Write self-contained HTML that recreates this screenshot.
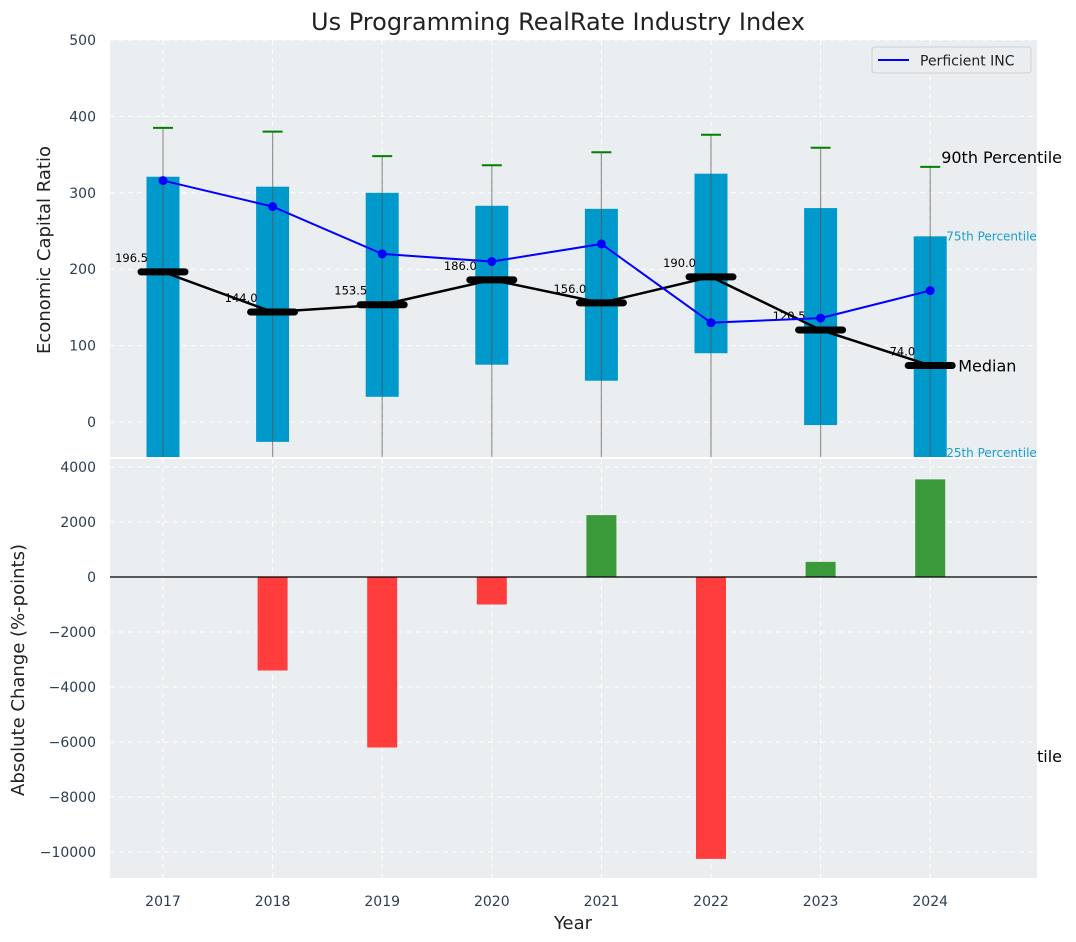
<!DOCTYPE html>
<html><head><meta charset="utf-8">
<style>
html,body{margin:0;padding:0;background:#fff;}
svg{display:block;font-family:"DejaVu Sans","Liberation Sans",sans-serif;}
</style></head>
<body>
<svg id="chart" width="1076" height="942" viewBox="0 0 1076 942" xmlns="http://www.w3.org/2000/svg">
<defs>
<clipPath id="clipTop"><rect x="110" y="40" width="927" height="417"/></clipPath>
<clipPath id="clipBot"><rect x="110" y="459" width="927" height="419"/></clipPath>
</defs>
<text x="558" y="30" text-anchor="middle" font-size="24" fill="#222">Us Programming RealRate Industry Index</text>
<rect x="110" y="40" width="927" height="417" fill="#eaeef0"/>
<g id="topGrid"></g>
<g id="topMarks" clip-path="url(#clipTop)"></g>
<g id="topAxis"></g>
<g id="annot"></g>
<rect x="110" y="459" width="927" height="419" fill="#eaeef0"/>
<g id="botGrid"></g>
<g id="botMarks" clip-path="url(#clipBot)"></g>
<g id="botAxis"></g>
<text x="1037" y="762" font-size="16" fill="#000">tile</text>
<text x="50" y="250" font-size="18" fill="#222" text-anchor="middle" transform="rotate(-90 50 250)">Economic Capital Ratio</text>
<text x="24" y="670" font-size="18" fill="#222" text-anchor="middle" transform="rotate(-90 24 670)">Absolute Change (%-points)</text>
<text x="573" y="929" font-size="18" fill="#222" text-anchor="middle">Year</text>
<g>
<rect x="872" y="47" width="159" height="26" rx="3" fill="#eaeef0" stroke="#d0d0d0"/>
<line x1="878" y1="60" x2="909" y2="60" stroke="#0000ff" stroke-width="2"/>
<text x="920" y="65.5" font-size="14" fill="#222">Perficient INC</text>
</g>
</svg>
<script>
const years = [2017,2018,2019,2020,2021,2022,2023,2024];
const p90 = [385,380,348,336,353,376,359,334];
const p75 = [321,308,300,283,279,325,280,243];
const medians = [196.5,144.0,153.5,186.0,156.0,190.0,120.5,74.0];
const p25 = [-80,-26,33,75,54,90,-4,-60];
const p10 = [-300,-300,-300,-300,-300,-300,-300,-437];
const company = [316,282,220,210,233,130,136,172];
const changes = [0,-3400,-6200,-1000,2250,-10250,550,3550];
const topTicks = [0,100,200,300,400,500];
const botTicks = [4000,2000,0,-2000,-4000,-6000,-8000,-10000];

const NS="http://www.w3.org/2000/svg";
function mk(parent,tag,attrs,txt){const e=document.createElementNS(NS,tag);for(const k in attrs)e.setAttribute(k,attrs[k]);if(txt!==undefined)e.textContent=txt;parent.appendChild(e);return e;}
const xS = i => 163 + i*109.6;
const yT = v => 422 - v*0.764;
const yB = v => 577 - v*0.0275;
const tg=document.getElementById('topGrid'), tm=document.getElementById('topMarks'), ta=document.getElementById('topAxis');
const bg=document.getElementById('botGrid'), bm=document.getElementById('botMarks'), ba=document.getElementById('botAxis');
const an=document.getElementById('annot');

topTicks.forEach(t=>{
  const g=mk(tg,'line',{x1:110,x2:1037,y1:yT(t),y2:yT(t),stroke:'#fff','stroke-dasharray':'5,4','stroke-width':1});
  
  
  const l=mk(ta,'text',{x:96,y:yT(t)+5,'text-anchor':'end','font-size':14,fill:'#2c3e50'},String(t));
  
  
});
botTicks.forEach(t=>{
  const g=mk(bg,'line',{x1:110,x2:1037,y1:yB(t),y2:yB(t),stroke:'#fff','stroke-dasharray':'5,4','stroke-width':1});
  
  
  const lbl = t<0 ? '\u2212'+Math.abs(t) : String(t);
  const l=mk(ba,'text',{x:96,y:yB(t)+5,'text-anchor':'end','font-size':14,fill:'#2c3e50'},lbl);
  
  
});
years.forEach((y,i)=>{
  const x=xS(i);
  const g1=mk(tg,'line',{x1:x,x2:x,y1:40,y2:457,stroke:'#fff','stroke-dasharray':'5,4'});
  
  
  const g2=mk(bg,'line',{x1:x,x2:x,y1:459,y2:878,stroke:'#fff','stroke-dasharray':'5,4'});
  
  
  const l=mk(ba,'text',{x:x,y:906,'text-anchor':'middle','font-size':14,fill:'#2c3e50'},String(y));
  
  
});
// boxes
years.forEach((y,i)=>{
  const x=xS(i);
  const b=mk(tm,'rect',{x:x-16.5,y:yT(p75[i]),width:33,height:yT(p25[i])-yT(p75[i]),fill:'#0099cc'});
  
  
  const w=mk(tm,'line',{x1:x,x2:x,y1:yT(p90[i]),y2:yT(p10[i]),stroke:'#555','stroke-opacity':0.6,'stroke-width':1.2});
  
  
  const c=mk(tm,'line',{x1:x-10,x2:x+10,y1:yT(p90[i]),y2:yT(p90[i]),stroke:'#008000','stroke-width':2});
  
  
});
// median line
const mp=medians.map((v,i)=>xS(i)+','+yT(v)).join(' ');
const ml=mk(tm,'polyline',{points:mp,fill:'none',stroke:'#000','stroke-width':2.5});


medians.forEach((v,i)=>{
  const x=xS(i);
  const m=mk(tm,'line',{x1:x-22,x2:x+22,y1:yT(v),y2:yT(v),stroke:'#000','stroke-width':7,'stroke-linecap':'round'});
  
  
  const t=mk(tm,'text',{x:x-15,y:yT(v)-10,'text-anchor':'end','font-size':11.5,fill:'#000'},v.toFixed(1));
  
  
});
// company line
const cp=company.map((v,i)=>xS(i)+','+yT(v)).join(' ');
const cl=mk(tm,'polyline',{points:cp,fill:'none',stroke:'#0000ff','stroke-width':2});


company.forEach((v,i)=>{
  const d=mk(tm,'circle',{cx:xS(i),cy:yT(v),r:4.5,fill:'#0000ff'});
  
  
});
// annotations for last year
const L=years.length-1, xl=xS(L);
const a1=mk(an,'text',{x:xl+11,y:yT(p90[L])-4,'font-size':16,fill:'#000'},'90th Percentile');


const a2=mk(an,'text',{x:xl+16,y:yT(p75[L])+4,'font-size':12,fill:'#1a9fcf'},'75th Percentile');


const a3=mk(an,'text',{x:xl+28,y:yT(medians[L])+6,'font-size':16,fill:'#000'},'Median');


const a4=mk(an,'text',{x:xl+16,y:457,'font-size':12,fill:'#1a9fcf'},'25th Percentile');


// bottom bars
changes.forEach((v,i)=>{
  const x=xS(i);
  const y0=yB(0), y1=yB(v);
  const r=mk(bm,'rect',{x:x-15,y:Math.min(y0,y1),width:30,height:Math.abs(y1-y0),fill:v>=0?'#3a9a3a':'#ff3d3d'});
  
  
});
const z=mk(bm,'line',{x1:110,x2:1037,y1:yB(0),y2:yB(0),stroke:'#000','stroke-width':1.2});


</script>
</body></html>
